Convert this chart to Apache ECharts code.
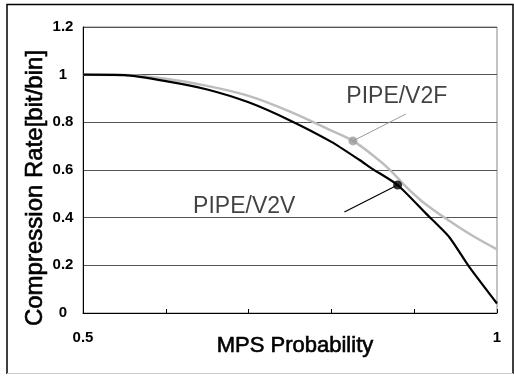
<!DOCTYPE html>
<html>
<head>
<meta charset="utf-8">
<script src="https://cdn.jsdelivr.net/npm/echarts@6/dist/echarts.min.js"></script>
<style>
  html, body { margin: 0; padding: 0; background: #fff; }
  #chart { width: 514px; height: 376px; }
</style>
</head>
<body>
<div id="chart"></div>
<script>
// MPS probability (x) and compression rate (y)
const mpsV2V = [0.50, 0.55, 0.60, 0.65, 0.70, 0.75, 0.80, 0.834, 0.85, 0.88, 0.914, 0.942, 0.966, 1.00];
const rateV2V = [1.000, 0.998, 0.973, 0.938, 0.884, 0.808, 0.718, 0.642, 0.604, 0.537, 0.418, 0.320, 0.196, 0.040];

const mpsV2F = [0.50, 0.55, 0.60, 0.65, 0.70, 0.75, 0.80, 0.826, 0.85, 0.87, 0.89, 0.91, 0.94, 0.97, 1.00];
const rateV2F = [1.000, 0.999, 0.983, 0.953, 0.911, 0.845, 0.765, 0.722, 0.662, 0.603, 0.530, 0.467, 0.392, 0.325, 0.267];

// callout: dot on the curve, end of the leader line, label anchor
const calloutV2F = { dot: [0.826, 0.722], end: [0.890, 0.835], label: [0.818, 0.9085], text: 'PIPE/V2F' };
const calloutV2V = { dot: [0.880, 0.537], end: [0.8157, 0.424], label: [0.633, 0.447], text: 'PIPE/V2V' };

const xLabels = ['0.5', '1'];

const zip = (xs, ys) => xs.map((x, i) => [x, ys[i]]);

const chart = echarts.init(document.getElementById('chart'), null, { renderer: 'canvas' });

const calloutSeries = (c, color, lineWidth, dotSize) => [
  {
    type: 'line',
    data: [c.dot, c.end],
    symbol: 'none',
    lineStyle: { color: color, width: lineWidth },
    silent: true,
    z: 4
  },
  {
    type: 'scatter',
    data: [c.dot],
    symbolSize: dotSize,
    itemStyle: { color: color },
    silent: true,
    z: 6
  },
  {
    type: 'scatter',
    data: [c.label],
    symbolSize: 0,
    silent: true,
    label: {
      show: true,
      position: 'right',
      distance: 0,
      formatter: c.text,
      color: '#111',
      fontSize: 23,
      fontFamily: 'Liberation Sans, Arial, sans-serif'
    },
    z: 6
  }
];

const option = {
  backgroundColor: '#fff',
  animation: false,
  graphic: [
    {
      type: 'polyline',
      shape: { points: [[7, 374], [7, 4.5], [513, 4.5], [513, 374]] },
      style: { stroke: '#000', lineWidth: 1.5, fill: null },
      silent: true
    },
    {
      type: 'line',
      shape: { x1: 7, y1: 373.5, x2: 513, y2: 373.5 },
      style: { stroke: '#ccc', lineWidth: 1 },
      silent: true
    }
  ],
  grid: {
    left: 83,
    right: 17,
    top: 27,
    bottom: 63,
    show: true,
    borderColor: '#888',
    borderWidth: 1
  },
  xAxis: {
    type: 'value',
    min: 0.5,
    max: 1,
    interval: 0.1,
    name: 'MPS Probability',
    nameLocation: 'middle',
    nameGap: 22,
    nameMoveOverlap: false,
    nameTextStyle: {
      color: '#000',
      fontSize: 22,
      fontFamily: 'Liberation Sans, Arial, sans-serif',
      textBorderColor: '#000',
      textBorderWidth: 0.6,
      padding: [0, 0, 0, 10]
    },
    axisLine: { onZero: false, lineStyle: { color: '#000', width: 1 } },
    axisTick: { show: true, inside: true, length: 4, lineStyle: { color: '#000' } },
    splitLine: { show: false },
    axisLabel: {
      color: '#000',
      fontSize: 15,
      fontWeight: 'bold',
      fontFamily: 'Liberation Sans, Arial, sans-serif',
      margin: 17,
      showMinLabel: true,
      showMaxLabel: true,
      formatter: (v) => {
        const s = String(Math.round(v * 10) / 10);
        return xLabels.includes(s) ? s : '';
      }
    }
  },
  yAxis: {
    type: 'value',
    min: 0,
    max: 1.2,
    interval: 0.2,
    name: 'Compression Rate[bit/bin]',
    nameLocation: 'middle',
    nameGap: 36,
    nameMoveOverlap: false,
    nameTextStyle: {
      color: '#000',
      fontSize: 24,
      fontFamily: 'Liberation Sans, Arial, sans-serif',
      textBorderColor: '#000',
      textBorderWidth: 0.6,
      padding: [0, 36, 0, 0]
    },
    axisLine: { show: true, lineStyle: { color: '#000', width: 1 } },
    axisTick: { show: false },
    splitLine: { lineStyle: { color: '#555', width: 1 } },
    axisLabel: {
      color: '#000',
      fontSize: 15,
      fontWeight: 'bold',
      fontFamily: 'Liberation Sans, Arial, sans-serif',
      align: 'center',
      margin: 20,
      formatter: (v) => String(Math.round(v * 10) / 10)
    }
  },
  series: [
    {
      name: 'PIPE/V2F',
      type: 'line',
      data: zip(mpsV2F, rateV2F),
      smooth: 0.35,
      symbol: 'none',
      lineStyle: { color: '#bdbdbd', width: 2.5 },
      z: 3
    },
    {
      name: 'PIPE/V2V',
      type: 'line',
      data: zip(mpsV2V, rateV2V),
      smooth: 0.2,
      symbol: 'none',
      lineStyle: { color: '#000', width: 2.2 },
      z: 5
    },
    ...calloutSeries(calloutV2F, '#9a9a9a', 1, 9),
    ...calloutSeries(calloutV2V, '#000', 1.2, 9)
  ]
};

chart.setOption(option);
</script>
</body>
</html>
